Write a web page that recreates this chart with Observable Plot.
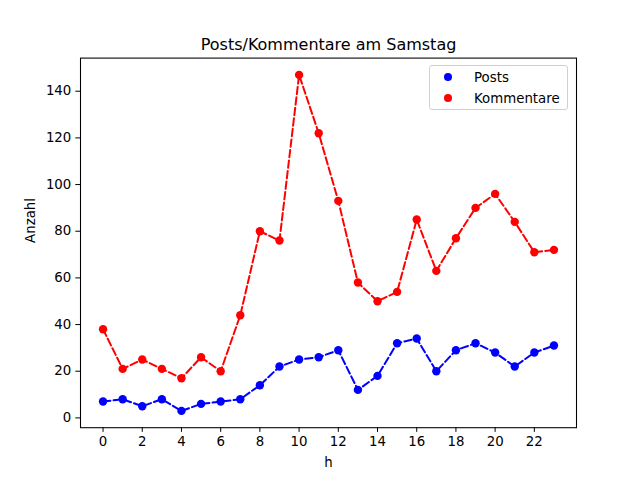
<!DOCTYPE html>
<html>
<head>
<meta charset="utf-8">
<script src="https://cdn.jsdelivr.net/npm/d3@7"></script>
<script src="https://cdn.jsdelivr.net/npm/@observablehq/plot@0.6"></script>
<style>
  html, body { margin: 0; padding: 0; background: #fff; }
  #wrap { position: relative; width: 640px; height: 480px; font-family: "DejaVu Sans", sans-serif; }
  #legend {
    position: absolute; left: 429px; top: 65px; width: 139px; height: 45px;
    border: 1px solid #d0d0d0; border-radius: 3px; background: rgba(255,255,255,0.8);
    box-sizing: border-box; font-size: 13.33px; color: #000;
  }
  .item { position: absolute; left: 0; height: 20px; display: flex; align-items: center; }
  .dot { position: absolute; left: 14px; width: 8px; height: 8px; border-radius: 50%; }
  .lab { position: absolute; left: 44px; white-space: nowrap; }
</style>
</head>
<body>
<div id="wrap"></div>
<script>
const hours = d3.range(0, 24);
const posts = [7, 8, 5, 8, 3, 6, 7, 8, 14, 22, 25, 26, 29, 12, 18, 32, 34, 20, 29, 32, 28, 22, 28, 31];
const kommentare = [38, 21, 25, 21, 17, 26, 20, 44, 80, 76, 147, 122, 93, 58, 50, 54, 85, 63, 77, 90, 96, 84, 71, 72];
const seriesNames = ["Posts", "Kommentare"];
const seriesColors = ["#0000ff", "#ff0000"];
const xTicks = d3.range(0, 23, 2);
const yTicks = d3.range(0, 141, 20);
const title = "Posts/Kommentare am Samstag";
const xLabel = "h";
const yLabel = "Anzahl";

const data = [];
hours.forEach((h, i) => {
  data.push({h, v: posts[i], s: seriesNames[0]});
  data.push({h, v: kommentare[i], s: seriesNames[1]});
});

const font = "DejaVu Sans";
const chart = Plot.plot({
  width: 640,
  height: 480,
  marginLeft: 80,
  marginRight: 64,
  marginTop: 57.6,
  marginBottom: 52.8,
  style: {fontFamily: font, fontSize: "13.33px", color: "#000", background: "#fff"},
  x: {domain: [-1.15, 24.15]},
  y: {domain: [-4.2, 154.2]},
  color: {domain: seriesNames, range: seriesColors},
  marks: [
    Plot.axisX({ticks: xTicks, tickSize: 4.67, tickPadding: 4, label: null, tickFormat: d3.format("d"), fontSize: 13.33}),
    Plot.axisY({ticks: yTicks, tickSize: 4.67, tickPadding: 4.5, label: null, tickFormat: d3.format("d"), fontSize: 13.33}),
    Plot.line(data, {x: "h", y: "v", z: "s", stroke: "s", strokeWidth: 2, strokeDasharray: "7.4,3.2"}),
    Plot.dot(data, {x: "h", y: "v", fill: "s", r: 4.2}),
    Plot.frame({stroke: "#000", strokeWidth: 1.07}),
    Plot.text([title], {frameAnchor: "top", dy: -13.6, fontSize: 16, fill: "#000", lineAnchor: "middle"}),
    Plot.text([xLabel], {frameAnchor: "bottom", dy: 35, fontSize: 13.33, fill: "#000", lineAnchor: "middle"}),
    Plot.text([yLabel], {frameAnchor: "left", dx: -50, rotate: -90, fontSize: 13.33, fill: "#000", lineAnchor: "middle"})
  ]
});

const wrap = document.getElementById("wrap");
wrap.appendChild(chart);

const legend = document.createElement("div");
legend.id = "legend";
seriesNames.forEach((name, i) => {
  const item = document.createElement("div");
  item.className = "item";
  item.style.top = (1 + i * 21) + "px";
  item.style.width = "100%";
  const dot = document.createElement("span");
  dot.className = "dot";
  dot.style.background = seriesColors[i];
  const lab = document.createElement("span");
  lab.className = "lab";
  lab.textContent = name;
  item.appendChild(dot);
  item.appendChild(lab);
  legend.appendChild(item);
});
wrap.appendChild(legend);
</script>
</body>
</html>
